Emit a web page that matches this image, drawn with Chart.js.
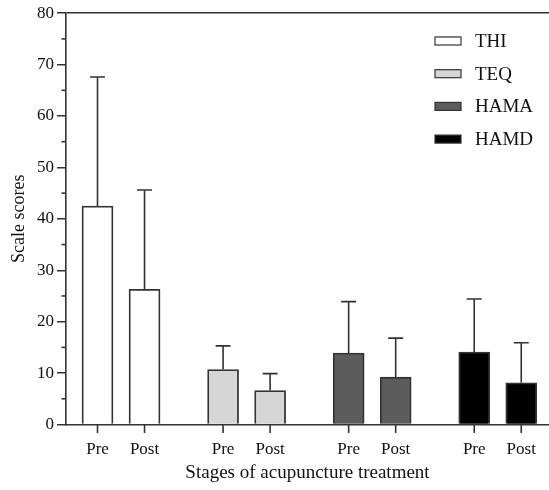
<!DOCTYPE html>
<html>
<head>
<meta charset="utf-8">
<script src="https://cdn.jsdelivr.net/npm/chart.js@4"></script>
<style>
  body { margin: 0; background: #fff; }
  #wrap { width: 549px; height: 490px; position: relative; }
</style>
</head>
<body>
<div id="wrap"><canvas id="grafico"></canvas></div>
<script>
// Datos del gráfico
const escalas = ['THI', 'TEQ', 'HAMA', 'HAMD'];
const etapas = ['Pre', 'Post'];
const valoresMedios = [
  [42.5, 26.3],
  [10.7, 6.6],
  [13.9, 9.2],
  [14.1, 8.1]
];
const valoresError = [
  [67.6, 45.6],
  [15.3, 9.9],
  [23.9, 16.8],
  [24.4, 15.9]
];
// posiciones en el eje x (Pre, Post por escala)
const posicionesX = [0, 1, 2.67, 3.67, 5.34, 6.34, 8.01, 9.01];
const etiquetasX = ['Pre', 'Post', 'Pre', 'Post', 'Pre', 'Post', 'Pre', 'Post'];
const ticksMenores = [5, 15, 25, 35, 45, 55, 65, 75];
const coloresRelleno = ['#ffffff', '#d6d6d6', '#5c5c5c', '#000000'];

const fuente = 'Liberation Serif, Times New Roman, serif';
const colorLinea = '#333333';

const datasets = escalas.map((nombre, i) => ({
  label: nombre,
  data: etapas.map((_, j) => ({ x: posicionesX[i * 2 + j], y: valoresMedios[i][j] })),
  errores: valoresError[i],
  backgroundColor: coloresRelleno[i],
  borderColor: colorLinea,
  borderWidth: 1.8,
  barThickness: 31,
  grouped: false
}));

// Barras de error (solo hacia arriba)
const pluginErrores = {
  id: 'barrasError',
  afterDatasetsDraw(chart) {
    const ctx = chart.ctx;
    const y = chart.scales.y;
    ctx.save();
    ctx.strokeStyle = colorLinea;
    ctx.lineWidth = 1.6;
    chart.data.datasets.forEach((ds, i) => {
      chart.getDatasetMeta(i).data.forEach((bar, j) => {
        const yTop = y.getPixelForValue(ds.errores[j]);
        ctx.beginPath();
        ctx.moveTo(bar.x, bar.y);
        ctx.lineTo(bar.x, yTop);
        ctx.moveTo(bar.x - 7.5, yTop);
        ctx.lineTo(bar.x + 7.5, yTop);
        ctx.stroke();
      });
    });
    ctx.restore();
  }
};

// Ticks menores del eje y y marcas del eje x
const pluginTicks = {
  id: 'ticksExtra',
  afterDraw(chart) {
    const ctx = chart.ctx;
    const escalaY = chart.scales.y;
    const escalaX = chart.scales.x;
    const area = chart.chartArea;
    ctx.save();
    ctx.lineWidth = 1.6;
    ctx.strokeStyle = colorLinea;
    ticksMenores.forEach(v => {
      const py = escalaY.getPixelForValue(v);
      ctx.beginPath();
      ctx.moveTo(area.left - 4.5, py);
      ctx.lineTo(area.left, py);
      ctx.stroke();
    });
    posicionesX.forEach(v => {
      const px = escalaX.getPixelForValue(v);
      ctx.beginPath();
      ctx.moveTo(px, area.bottom);
      ctx.lineTo(px, area.bottom + 8.5);
      ctx.stroke();
    });
    ctx.restore();
  }
};

// Leyenda dentro del área del gráfico
const pluginLeyenda = {
  id: 'leyendaInterna',
  afterDraw(chart) {
    const ctx = chart.ctx;
    ctx.save();
    ctx.font = '19px ' + fuente;
    ctx.textBaseline = 'middle';
    chart.data.datasets.forEach((ds, i) => {
      const cy = 41 + i * 32.7;
      ctx.fillStyle = ds.backgroundColor;
      ctx.fillRect(435, cy - 4, 26, 8);
      ctx.strokeStyle = colorLinea;
      ctx.lineWidth = 1.2;
      ctx.strokeRect(435, cy - 4, 26, 8);
      ctx.fillStyle = '#111';
      ctx.fillText(ds.label, 475, cy + 1);
    });
    ctx.restore();
  }
};

new Chart(document.getElementById('grafico'), {
  type: 'bar',
  data: { datasets },
  options: {
    responsive: true,
    maintainAspectRatio: false,
    animation: false,
    layout: { padding: { top: 12, right: 0, left: 0, bottom: 0 } },
    plugins: {
      legend: { display: false },
      tooltip: { enabled: false }
    },
    scales: {
      x: {
        type: 'linear',
        min: -0.67,
        max: 9.6,
        offset: false,
        afterBuildTicks: scale => { scale.ticks = posicionesX.map(v => ({ value: v })); },
        afterFit: scale => { scale.height = 65.5; },
        ticks: {
          autoSkip: false,
          maxRotation: 0,
          padding: 7,
          color: '#111',
          font: { family: fuente, size: 17 },
          callback: (value, index) => etiquetasX[index]
        },
        grid: { offset: false, drawOnChartArea: false, drawTicks: true, tickLength: 8, tickColor: 'transparent' },
        border: { display: true, color: colorLinea, width: 1.6 },
        title: {
          display: true,
          text: 'Stages of acupuncture treatment',
          color: '#111',
          font: { family: fuente, size: 19 },
          padding: { top: 2, bottom: 6 }
        }
      },
      y: {
        min: 0,
        max: 80,
        afterFit: scale => { scale.width = 66; },
        ticks: {
          stepSize: 10,
          padding: 3,
          color: '#111',
          font: { family: fuente, size: 17 }
        },
        grid: {
          drawTicks: true,
          tickLength: 9,
          tickColor: colorLinea,
          tickWidth: 1.5,
          lineWidth: 1.5,
          color: ctx => (ctx.tick && ctx.tick.value === 80 ? colorLinea : 'transparent')
        },
        border: { display: true, color: colorLinea, width: 1.6 },
        title: {
          display: true,
          text: 'Scale scores',
          color: '#111',
          font: { family: fuente, size: 18 },
          padding: { top: 8, bottom: 0 }
        }
      }
    }
  },
  plugins: [pluginErrores, pluginTicks, pluginLeyenda]
});
</script>
</body>
</html>
